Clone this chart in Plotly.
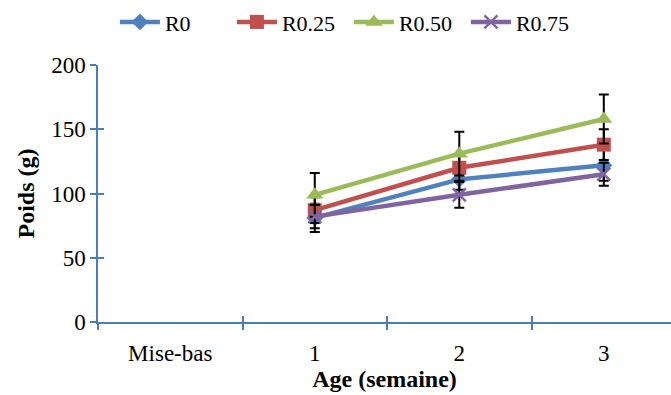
import plotly.graph_objects as go

categories = ["Mise-bas", "1", "2", "3"]
weeks = ["1", "2", "3"]
series_names = ["R0", "R0.25", "R0.50", "R0.75"]
r0 = [81, 111, 122]
r025 = [87, 120, 138]
r050 = [99, 131, 158]
r075 = [82, 99, 115]
r0_err = [11, 8, 12]
r025_err = [10, 10, 12]
r050_err = [17, 17, 19]
r075_err = [9, 10, 9]

colors = ["#4F81BD", "#C0504D", "#9BBB59", "#8064A2"]
symbols = ["diamond", "square", "triangle-up", "x-thin-open"]
sizes = [13, 14, 15, 13]
values = [r0, r025, r050, r075]
errors = [r0_err, r025_err, r050_err, r075_err]

font_family = "Liberation Serif"
axis_color = "#4A7EBB"

fig = go.Figure()
for name, vals, errs, col, sym, sz in zip(series_names, values, errors, colors, symbols, sizes):
    marker = dict(symbol=sym, size=sz, color=col)
    if sym.endswith("open"):
        marker["line"] = dict(color=col, width=2.5)
    fig.add_trace(go.Scatter(
        x=weeks, y=vals, name=name, mode="lines+markers",
        line=dict(color=col, width=4.5),
        marker=marker,
        error_y=dict(type="data", array=errs, visible=True, color="black", thickness=2, width=5),
    ))

# dummy invisible trace on overlay axes for inside tick marks
fig.add_trace(go.Scatter(x=[0], y=[0], xaxis="x2", yaxis="y2", mode="markers",
                         marker=dict(opacity=0), showlegend=False, hoverinfo="skip"))

x_range = [-0.5, 3.465]
fig.update_layout(
    width=671, height=395,
    margin=dict(l=98, r=0, t=65, b=73, autoexpand=False),
    paper_bgcolor="white", plot_bgcolor="white",
    font=dict(family=font_family, size=23, color="black"),
    showlegend=True,
    legend=dict(orientation="h", x=0.52, xanchor="center", xref="container",
                y=0.944, yanchor="middle", yref="container",
                font=dict(family=font_family, size=22, color="black"),
                itemwidth=40, traceorder="normal",
                entrywidth=62, entrywidthmode="pixels"),
    xaxis=dict(type="category", categoryorder="array", categoryarray=categories,
               range=x_range, tickson="boundaries", ticks="outside", ticklen=6,
               tickcolor=axis_color, tickwidth=1.5, ticklabelstandoff=10,
               showline=True, linecolor=axis_color, linewidth=1.5, showgrid=False,
               zeroline=False, tickfont=dict(family=font_family, size=23),
               title=dict(text="<b>Age (semaine)</b>", font=dict(family=font_family, size=24), standoff=2)),
    yaxis=dict(range=[0, 200], tickvals=[0, 50, 100, 150, 200], ticks="outside", ticklen=6,
               tickcolor=axis_color, tickwidth=1.5,
               showline=True, linecolor=axis_color, linewidth=1.5, showgrid=False,
               zeroline=False, tickfont=dict(family=font_family, size=23),
               title=dict(text="<b>Poids (g)</b>", font=dict(family=font_family, size=24), standoff=10)),
    xaxis2=dict(overlaying="x", range=x_range, tickvals=[0.5, 1.5, 2.5], ticks="inside",
                ticklen=6, tickcolor=axis_color, tickwidth=1.5, showticklabels=False,
                showline=False, showgrid=False, zeroline=False, side="bottom"),
    yaxis2=dict(overlaying="y", range=[0, 200], tickvals=[50, 100, 150, 200], ticks="inside",
                ticklen=6, tickcolor=axis_color, tickwidth=1.5, showticklabels=False,
                showline=False, showgrid=False, zeroline=False, side="left"),
)

fig.write_html("out.html")
